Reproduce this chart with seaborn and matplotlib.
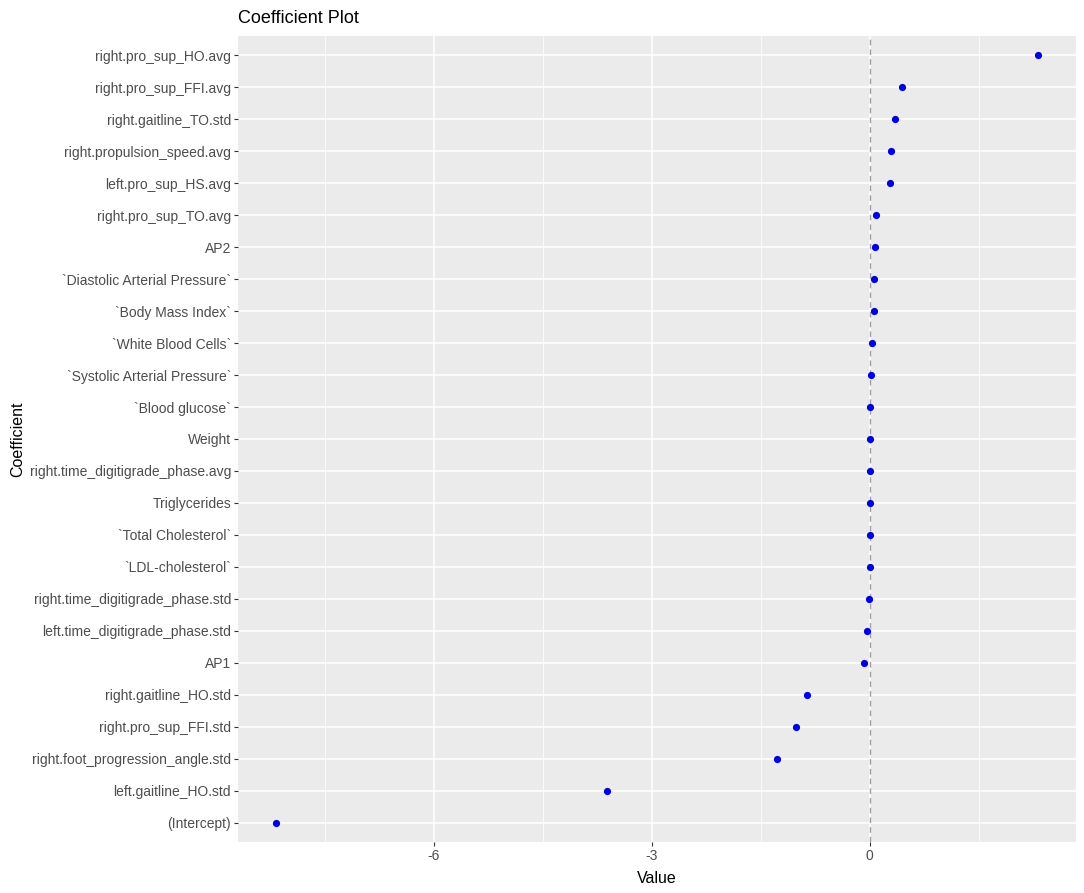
import numpy as np
import pandas as pd
import seaborn as sns
import matplotlib.pyplot as plt
from matplotlib.ticker import MultipleLocator

coefficients = [
    'right.pro_sup_HO.avg', 'right.pro_sup_FFI.avg', 'right.gaitline_TO.std',
    'right.propulsion_speed.avg', 'left.pro_sup_HS.avg', 'right.pro_sup_TO.avg',
    'AP2', '`Diastolic Arterial Pressure`', '`Body Mass Index`',
    '`White Blood Cells`', '`Systolic Arterial Pressure`', '`Blood glucose`',
    'Weight', 'right.time_digitigrade_phase.avg', 'Triglycerides',
    '`Total Cholesterol`', '`LDL-cholesterol`', 'right.time_digitigrade_phase.std',
    'left.time_digitigrade_phase.std', 'AP1', 'right.gaitline_HO.std',
    'right.pro_sup_FFI.std', 'right.foot_progression_angle.std',
    'left.gaitline_HO.std', '(Intercept)',
]
values = [
    2.32, 0.45, 0.35, 0.29, 0.28, 0.09,
    0.08, 0.06, 0.06, 0.03, 0.02, 0.01,
    0.01, 0.01, 0.01, 0.01, 0.01, -0.005,
    -0.03, -0.08, -0.86, -1.01, -1.27, -3.61, -8.17,
]

df = pd.DataFrame({'Coefficient': coefficients, 'Value': values})

sns.set_theme(style='darkgrid')
plt.rcParams['font.family'] = ['Liberation Sans', 'DejaVu Sans']

fig = plt.figure(figsize=(10.84, 8.93), dpi=100)
ax = fig.add_axes([0.2196, 0.0571, 0.7730, 0.9026])
ax.set_facecolor('#EBEBEB')

ax.axvline(0, color='#A0A0A0', linestyle=(0, (4, 3)), linewidth=1.0, zorder=2)
sns.stripplot(data=df, x='Value', y='Coefficient', order=coefficients,
              jitter=False, color='#0000E0', size=5.2, linewidth=0,
              ax=ax, zorder=3)

ax.set_xlim(-8.69, 2.84)
ax.set_ylim(len(coefficients) - 0.4, -0.6)
ax.xaxis.set_minor_locator(MultipleLocator(1.5))
ax.set_xticks([-6, -3, 0])
ax.set_xticklabels(['-6', '-3', '0'])

ax.grid(which='major', color='white', linewidth=1.1)
ax.grid(which='minor', axis='x', color='white', linewidth=0.55)
ax.set_axisbelow(True)
for s in ax.spines.values():
    s.set_visible(False)

ax.tick_params(axis='both', which='major', length=3, width=0.8, color='#333333',
               labelcolor='#4D4D4D', labelsize=10, pad=2, bottom=True, left=True)
ax.tick_params(axis='x', which='minor', length=0)

ax.set_xlabel('Value', fontsize=11.5, color='black', labelpad=6)
ax.set_ylabel('Coefficient', fontsize=11.5, color='black', labelpad=3)
ax.set_title('Coefficient Plot', loc='left', fontsize=13, color='black', pad=9)

plt.savefig('out.png', dpi=100)
